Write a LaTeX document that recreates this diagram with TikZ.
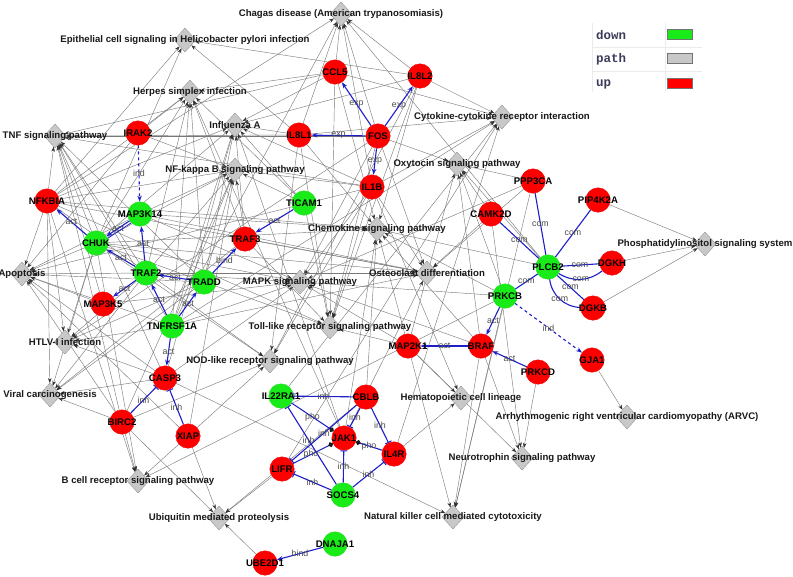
\documentclass[tikz,border=0pt]{standalone}
\usepackage{fontspec}
\setmainfont{Liberation Sans}
\newfontfamily\legfont{Liberation Mono}
\usetikzlibrary{shapes.geometric,arrows.meta}
\pgfdeclarelayer{back}
\pgfdeclarelayer{bg}
\pgfsetlayers{back,bg,main}
\definecolor{nodered}{RGB}{255,0,0}
\definecolor{nodegreen}{RGB}{25,235,25}
\definecolor{pathgray}{RGB}{200,200,200}
\definecolor{edgegray}{RGB}{120,120,120}
\definecolor{iblue}{RGB}{30,30,200}
\definecolor{legtxt}{RGB}{60,60,90}
\tikzset{
  gene/.style={circle, minimum size=24.5pt, inner sep=0pt, fill=#1, draw=#1!95!black, line width=0.3pt},
  genetext/.style={font=\fontsize{9.6}{10}\bfseries, text=black, inner sep=0pt},
  pathnode/.style={diamond, minimum width=22pt, minimum height=24pt, inner sep=0pt, fill=pathgray, draw=black!45, line width=0.3pt},
  pathtext/.style={font=\fontsize{9.6}{10}\bfseries, text=black!90, inner sep=0pt},
  gedge/.style={draw=edgegray, line width=0.42pt, -{Stealth[length=5pt,width=3.6pt,color=black!80]}},
  bedge/.style={draw=iblue, line width=1.1pt},
  actarrow/.style={bedge, -{Stealth[length=6pt,width=4.5pt]}},
  inharrow/.style={bedge, -{Bar[width=7pt,line width=1pt]}},
  phoarrow/.style={bedge, -{Circle[length=5pt,color=black!90]}},
  comline/.style={bedge},
  elab/.style={font=\fontsize{8.8}{9}\selectfont, text=black!70, inner sep=0.5pt},
  legline/.style={draw=black!8, line width=0.8pt},
  legtext/.style={font=\legfont\fontsize{12.5}{13}\bfseries, text=legtxt, inner sep=0pt, anchor=west},
  swatch/.style={minimum width=25pt, minimum height=10pt, inner sep=0pt, draw=black!55, line width=0.6pt}
}
\begin{document}
\begin{tikzpicture}[x=1pt, y=-1pt]
\begin{pgfonlayer}{back}
\fill[white] (0,0) rectangle (793,576);
\end{pgfonlayer}
\useasboundingbox (0,0) rectangle (793,576);
% pathways
\node[pathnode, label={[pathtext]center:Chagas disease (American trypanosomiasis)}] (chagas) at (341,14) {};
\node[pathnode, label={[pathtext]center:Epithelial cell signaling in Helicobacter pylori infection}] (epi) at (185,40) {};
\node[pathnode, label={[pathtext]center:Herpes simplex infection}] (herpes) at (190,92) {};
\node[pathnode, label={[pathtext]center:Influenza A}] (flu) at (235,125) {};
\node[pathnode, label={[pathtext]center:TNF signaling pathway}] (tnf) at (55,136) {};
\node[pathnode, label={[pathtext]center:NF-kappa B signaling pathway}] (nfkb) at (235,170) {};
\node[pathnode, label={[pathtext]center:Cytokine-cytokine receptor interaction}] (cyto) at (502,117) {};
\node[pathnode, label={[pathtext]center:Oxytocin signaling pathway}] (oxy) at (457,164) {};
\node[pathnode, label={[pathtext]center:Chemokine signaling pathway}] (chemo) at (377,229) {};
\node[pathnode, label={[pathtext]center:Osteoclast differentiation}] (osteo) at (427,273) {};
\node[pathnode, label={[pathtext]center:MAPK signaling pathway}] (mapk) at (300,282) {};
\node[pathnode, label={[pathtext]center:Toll-like receptor signaling pathway}] (toll) at (330,327) {};
\node[pathnode, label={[pathtext]center:NOD-like receptor signaling pathway}] (nod) at (270,361) {};
\node[pathnode, label={[pathtext]center:Apoptosis}] (apop) at (22,274) {};
\node[pathnode, label={[pathtext]center:HTLV-I infection}] (htlv) at (65,342) {};
\node[pathnode, label={[pathtext]center:Viral carcinogenesis}] (viral) at (50,395) {};
\node[pathnode, label={[pathtext]center:B cell receptor signaling pathway}] (bcell) at (138,481) {};
\node[pathnode, label={[pathtext]center:Ubiquitin mediated proteolysis}] (ubiq) at (219,518) {};
\node[pathnode, label={[pathtext]center:Natural killer cell mediated cytotoxicity}] (nk) at (453,517) {};
\node[pathnode, label={[pathtext]center:Neurotrophin signaling pathway}] (neuro) at (522,458) {};
\node[pathnode, label={[pathtext]center:Hematopoietic cell lineage}] (hema) at (461,398) {};
\node[pathnode, label={[pathtext]center:Arrhythmogenic right ventricular cardiomyopathy (ARVC)}] (arvc) at (627,417) {};
\node[pathnode, label={[pathtext]center:Phosphatidylinositol signaling system}] (pis) at (705,244) {};
% genes
\node[gene=nodered, label={[genetext]center:CCL5}] (ccl5) at (335,72) {};
\node[gene=nodered, label={[genetext]center:IL8L2}] (il8l2) at (420,76) {};
\node[gene=nodered, label={[genetext]center:IL8L1}] (il8l1) at (299,135) {};
\node[gene=nodered, label={[genetext]center:FOS}] (fos) at (378,136) {};
\node[gene=nodered, label={[genetext]center:IL1B}] (il1b) at (372,187) {};
\node[gene=nodered, label={[genetext]center:IRAK2}] (irak2) at (138,133) {};
\node[gene=nodered, label={[genetext]center:NFKBIA}] (nfkbia) at (47,201) {};
\node[gene=nodegreen, label={[genetext]center:MAP3K14}] (map3k14) at (140,214) {};
\node[gene=nodegreen, label={[genetext]center:CHUK}] (chuk) at (96,243) {};
\node[gene=nodegreen, label={[genetext]center:TICAM1}] (ticam1) at (304,203) {};
\node[gene=nodered, label={[genetext]center:TRAF3}] (traf3) at (245,239) {};
\node[gene=nodegreen, label={[genetext]center:TRAF2}] (traf2) at (146,273) {};
\node[gene=nodegreen, label={[genetext]center:TRADD}] (tradd) at (204,282) {};
\node[gene=nodered, label={[genetext]center:MAP3K5}] (map3k5) at (103,304) {};
\node[gene=nodegreen, label={[genetext]center:TNFRSF1A}] (tnfrsf1a) at (172,326) {};
\node[gene=nodered, label={[genetext]center:CASP3}] (casp3) at (165,378) {};
\node[gene=nodered, label={[genetext]center:BIRC2}] (birc2) at (122,422) {};
\node[gene=nodered, label={[genetext]center:XIAP}] (xiap) at (188,436) {};
\node[gene=nodegreen, label={[genetext]center:IL22RA1}] (il22ra1) at (281,396) {};
\node[gene=nodered, label={[genetext]center:CBLB}] (cblb) at (366,397) {};
\node[gene=nodered, label={[genetext]center:JAK1}] (jak1) at (344,438) {};
\node[gene=nodered, label={[genetext]center:IL4R}] (il4r) at (394,454) {};
\node[gene=nodered, label={[genetext]center:LIFR}] (lifr) at (282,469) {};
\node[gene=nodegreen, label={[genetext]center:SOCS4}] (socs4) at (343,495) {};
\node[gene=nodegreen, label={[genetext]center:DNAJA1}] (dnaja1) at (335,544) {};
\node[gene=nodered, label={[genetext]center:UBE2D1}] (ube2d1) at (265,563) {};
\node[gene=nodered, label={[genetext]center:PPP3CA}] (ppp3ca) at (533,181) {};
\node[gene=nodered, label={[genetext]center:PIP4K2A}] (pip4k2a) at (598,200) {};
\node[gene=nodered, label={[genetext]center:CAMK2D}] (camk2d) at (491,214) {};
\node[gene=nodegreen, label={[genetext]center:PLCB2}] (plcb2) at (548,267) {};
\node[gene=nodered, label={[genetext]center:DGKH}] (dgkh) at (612,263) {};
\node[gene=nodered, label={[genetext]center:DGKB}] (dgkb) at (593,308) {};
\node[gene=nodegreen, label={[genetext]center:PRKCB}] (prkcb) at (505,296) {};
\node[gene=nodered, label={[genetext]center:BRAF}] (braf) at (481,346) {};
\node[gene=nodered, label={[genetext]center:MAP2K1}] (map2k1) at (408,346) {};
\node[gene=nodered, label={[genetext]center:PRKCD}] (prkcd) at (538,372) {};
\node[gene=nodered, label={[genetext]center:GJA1}] (gja1) at (592,360) {};
% legend
\draw[legline] (592,23) -- (592,92);
\draw[legline] (665,23) -- (665,92);
\draw[legline] (592,47) -- (702,47);
\draw[legline] (592,71) -- (702,71);
\node[legtext] (lgdown) at (596,35) {down};
\node[legtext] (lgpath) at (596,59) {path};
\node[legtext] (lgup) at (596,84) {up};
\node[swatch, fill=nodegreen] (swdown) at (680,34) {};
\node[swatch, fill=pathgray] (swpath) at (680,58.5) {};
\node[swatch, fill=nodered] (swup) at (680,83) {};
\begin{pgfonlayer}{bg}
\foreach \g/\p in {
 ccl5/chagas, ccl5/cyto, ccl5/chemo, ccl5/toll, ccl5/tnf, ccl5/flu, ccl5/herpes,
 il8l2/chagas, il8l2/epi, il8l2/cyto, il8l2/chemo, il8l2/toll, il8l2/nod, il8l2/flu,
 il8l1/chagas, il8l1/epi, il8l1/cyto, il8l1/chemo, il8l1/toll, il8l1/nod, il8l1/flu, il8l1/tnf,
 fos/chagas, fos/mapk, fos/toll, fos/tnf, fos/osteo, fos/oxy, fos/htlv,
 il1b/chagas, il1b/cyto, il1b/mapk, il1b/toll, il1b/nod, il1b/nfkb, il1b/tnf, il1b/osteo, il1b/flu, il1b/hema, il1b/apop,
 irak2/apop, irak2/nfkb, irak2/herpes,
 nfkbia/apop, nfkbia/tnf, nfkbia/nfkb, nfkbia/toll, nfkbia/nod, nfkbia/chagas, nfkbia/epi, nfkbia/herpes, nfkbia/flu, nfkbia/htlv, nfkbia/osteo, nfkbia/bcell, nfkbia/viral, nfkbia/chemo,
 map3k14/mapk, map3k14/nfkb, map3k14/apop, map3k14/chemo, map3k14/osteo,
 chuk/apop, chuk/tnf, chuk/nfkb, chuk/toll, chuk/nod, chuk/mapk, chuk/chemo, chuk/herpes, chuk/flu, chuk/htlv, chuk/bcell, chuk/osteo, chuk/viral, chuk/epi,
 ticam1/toll, ticam1/nfkb, ticam1/herpes, ticam1/flu,
 traf3/toll, traf3/nfkb, traf3/herpes, traf3/flu, traf3/osteo, traf3/viral,
 traf2/tnf, traf2/nfkb, traf2/mapk, traf2/apop, traf2/osteo, traf2/htlv, traf2/herpes, traf2/viral,
 tradd/tnf, tradd/nfkb, tradd/apop, tradd/herpes, tradd/flu, tradd/viral, tradd/htlv,
 map3k5/tnf, map3k5/mapk, map3k5/apop,
 tnfrsf1a/tnf, tnfrsf1a/mapk, tnfrsf1a/nfkb, tnfrsf1a/apop, tnfrsf1a/cyto, tnfrsf1a/osteo, tnfrsf1a/htlv, tnfrsf1a/herpes, tnfrsf1a/flu, tnfrsf1a/chagas,
 casp3/apop, casp3/mapk, casp3/tnf, casp3/viral, casp3/flu, casp3/htlv, casp3/nk,
 birc2/apop, birc2/tnf, birc2/nfkb, birc2/nod, birc2/ubiq, birc2/bcell, birc2/viral,
 xiap/apop, xiap/nod, xiap/ubiq, xiap/nfkb, xiap/bcell,
 il22ra1/cyto, cblb/ubiq, cblb/chemo,
 jak1/chemo, jak1/osteo, jak1/herpes, jak1/flu,
 il4r/cyto, il4r/hema, lifr/cyto, lifr/ubiq, ube2d1/ubiq,
 ppp3ca/mapk, ppp3ca/oxy, ppp3ca/osteo, ppp3ca/nk,
 pip4k2a/pis, camk2d/oxy, camk2d/neuro, camk2d/osteo,
 plcb2/chemo, plcb2/oxy, plcb2/chagas, dgkh/pis, dgkb/pis,
 prkcb/mapk, prkcb/chemo, prkcb/oxy, prkcb/nk, prkcb/bcell,
 braf/mapk, braf/neuro, braf/nk, braf/chemo, braf/oxy,
 map2k1/mapk, map2k1/neuro, map2k1/nk, map2k1/chemo, map2k1/toll, map2k1/oxy, map2k1/hema,
 prkcd/neuro, gja1/arvc}
 \draw[gedge] (\g) -- (\p);
% interaction edges
\foreach \a/\b in {fos/ccl5, fos/il8l2, fos/il8l1, fos/il1b}
 \draw[actarrow] (\a) -- node[elab] {exp} (\b);
\foreach \a/\b in {chuk/nfkbia, traf2/map3k14, traf2/chuk, tradd/traf2, traf2/map3k5, tnfrsf1a/traf2, tnfrsf1a/tradd, ticam1/traf3, tnfrsf1a/casp3, prkcb/braf, braf/map2k1, prkcd/braf, map3k14/chuk}
 \draw[actarrow] (\a) -- node[elab] {act} (\b);
\draw[bedge, line width=0.8pt] ([shift={(1.4,2.1)}]map3k14.center) -- ([shift={(1.4,2.1)}]chuk.center);
\draw[actarrow] (tradd) -- node[elab] {bind} (traf3);
\draw[actarrow] (dnaja1) -- node[elab] {bind} (ube2d1);
\draw[actarrow, dashed] (irak2) -- node[elab] {ind} (map3k14);
\draw[actarrow, dashed] (prkcb) -- node[elab] {ind} (gja1);
\foreach \a/\b in {birc2/casp3, xiap/casp3, cblb/il22ra1, cblb/jak1, cblb/il4r, cblb/lifr, socs4/jak1, socs4/il4r, socs4/lifr}
 \draw[inharrow] (\a) -- node[elab] {inh} (\b);
\draw[inharrow] (socs4) -- node[elab, pos=0.57] {inh} (il22ra1);
\draw[phoarrow] (il22ra1) -- node[elab] {pho} (jak1);
\draw[phoarrow] (il4r) -- node[elab] {pho} (jak1);
\draw[phoarrow] (lifr) -- node[elab, pos=0.45] {pho} (jak1);
\foreach \a/\b in {plcb2/prkcb, plcb2/camk2d, plcb2/ppp3ca, plcb2/pip4k2a, plcb2/dgkh, plcb2/dgkb}
 \draw[comline] (\a) -- node[elab] {com} (\b);
\draw[comline] (plcb2) to[bend right=35] node[elab] {com} (dgkh);
\draw[comline] (plcb2) to[bend right=40] node[elab] {com} (dgkb);
\end{pgfonlayer}
\end{tikzpicture}
\end{document}
